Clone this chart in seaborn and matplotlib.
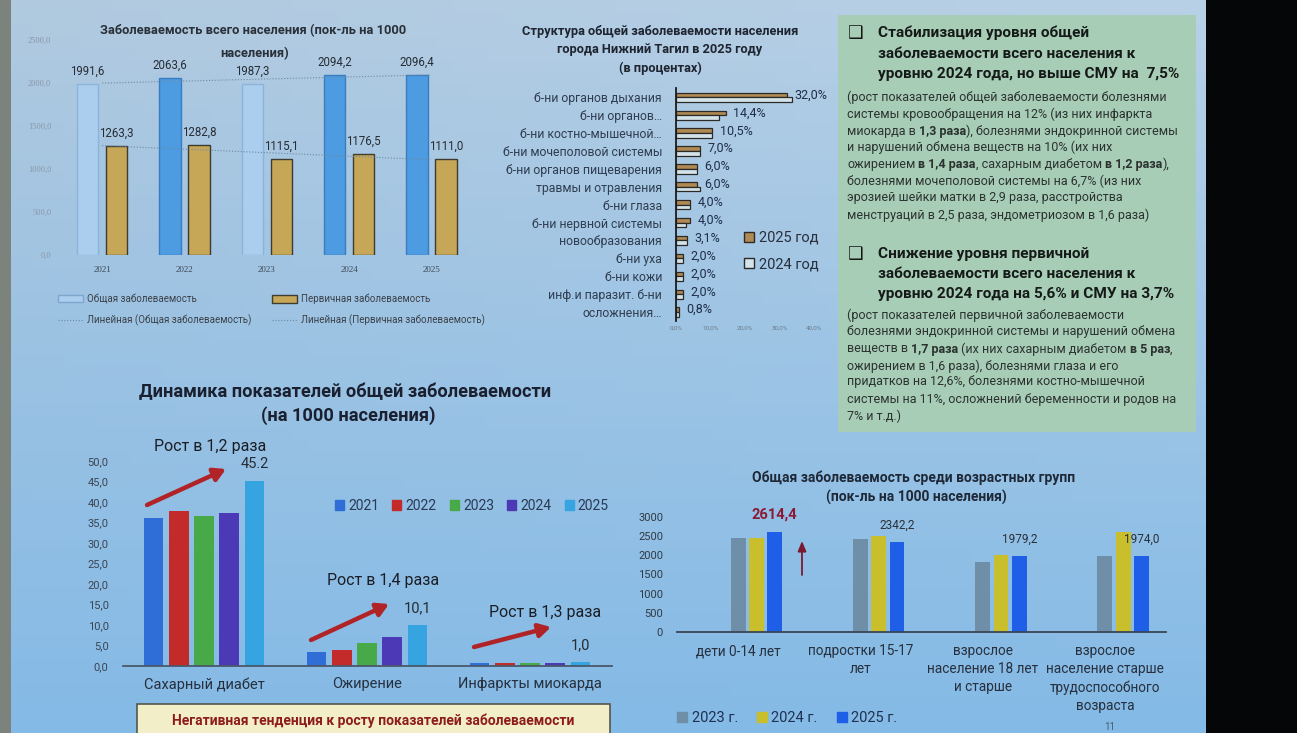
import numpy as np
import pandas as pd
import matplotlib
matplotlib.use('Agg')
import matplotlib.pyplot as plt
import matplotlib.font_manager as fm
from matplotlib.patches import Rectangle, Patch
from matplotlib.lines import Line2D
import seaborn as sns

# ---------------- data ----------------
tl_years = ['2021', '2022', '2023', '2024', '2025']
tl_general = [1991.6, 2063.6, 1987.3, 2094.2, 2096.4]
tl_primary = [1263.3, 1282.8, 1115.1, 1176.5, 1111.0]
tl_series = ['Общая заболеваемость', 'Первичная заболеваемость']
tl_trend_labels = ['Линейная (Общая заболеваемость)', 'Линейная (Первичная заболеваемость)']
tl_yticks = [0, 500, 1000, 1500, 2000, 2500]

st_cats = ['б-ни органов дыхания', 'б-ни органов…', 'б-ни костно-мышечной…',
           'б-ни мочеполовой системы', 'б-ни органов пищеварения', 'травмы и отравления',
           'б-ни глаза', 'б-ни нервной системы', 'новообразования', 'б-ни уха',
           'б-ни кожи', 'инф.и паразит. б-ни', 'осложнения…']
st_2025 = [32.0, 14.4, 10.5, 7.0, 6.0, 6.0, 4.0, 4.0, 3.1, 2.0, 2.0, 2.0, 0.8]
st_2024 = [33.6, 12.5, 10.5, 7.0, 6.0, 6.9, 4.0, 3.0, 3.1, 2.0, 2.0, 2.0, 0.8]
st_years = ['2025 год', '2024 год']
st_xticks = [0, 10, 20, 30, 40]

dy_cats = ['Сахарный диабет', 'Ожирение', 'Инфаркты миокарда']
dy_years = ['2021', '2022', '2023', '2024', '2025']
dy_2021 = [36.1, 3.4, 0.75]
dy_2022 = [37.7, 4.0, 0.80]
dy_2023 = [36.6, 5.5, 0.85]
dy_2024 = [37.2, 7.1, 0.77]
dy_2025 = [45.2, 10.1, 1.0]
dy_labels = ['45.2', '10,1', '1,0']
dy_growth = ['Рост в 1,2 раза', 'Рост в 1,4 раза', 'Рост в 1,3 раза']
dy_yticks = [0, 5, 10, 15, 20, 25, 30, 35, 40, 45, 50]

ag_cats = ['дети 0-14 лет', 'подростки 15-17\nлет', 'взрослое\nнаселение 18 лет\nи старше',
           'взрослое\nнаселение старше\nтрудоспособного\nвозраста']
ag_years = ['2023 г.', '2024 г.', '2025 г.']
ag_2023 = [2450, 2420, 1810, 1980]
ag_2024 = [2440, 2510, 1995, 2590]
ag_2025 = [2614.4, 2342.2, 1979.2, 1974.0]
ag_yticks = [0, 500, 1000, 1500, 2000, 2500, 3000]

box1_head = ['Стабилизация уровня общей', 'заболеваемости всего населения к',
             'уровню 2024 года, но выше СМУ на  7,5%']
box1_body = ['(рост показателей общей заболеваемости болезнями',
             'системы кровообращения на 12% (из них инфаркта',
             'миокарда в *1,3 раза*), болезнями эндокринной системы',
             'и нарушений обмена веществ на 10% (их них',
             'ожирением *в 1,4 раза*, сахарным диабетом *в 1,2 раза*),',
             'болезнями мочеполовой системы на 6,7% (из них',
             'эрозией шейки матки в 2,9 раза, расстройства',
             'менструаций в 2,5 раза, эндометриозом в 1,6 раза)']
box2_head = ['Снижение уровня первичной', 'заболеваемости всего населения к',
             'уровню 2024 года на 5,6% и СМУ на 3,7%']
box2_body = ['(рост показателей первичной заболеваемости',
             'болезнями эндокринной системы и нарушений обмена',
             'веществ в *1,7 раза* (их них сахарным диабетом *в 5 раз*,',
             'ожирением в 1,6 раза), болезнями глаза и его',
             'придатков на 12,6%, болезнями костно-мышечной',
             'системы на 11%, осложнений беременности и родов на',
             '7% и т.д.)']

# ---------------- setup ----------------
sns.set_style('white')
names = {f.name for f in fm.fontManager.ttflist}
MAIN = 'Roboto' if 'Roboto' in names else 'DejaVu Sans'
plt.rcParams['font.family'] = [MAIN, 'DejaVu Sans']

W, H = 1297, 733
fig = plt.figure(figsize=(W / 100, H / 100), dpi=100)
r = fig.canvas.get_renderer()


def px_rect(x0, y0, x1, y1):
    return [x0 / W, 1 - y1 / H, (x1 - x0) / W, (y1 - y0) / H]


def T(x, y, s, **kw):
    kw.setdefault('va', 'center')
    return fig.text(x / W, 1 - y / H, s, **kw)


def fit(t, width):
    w = t.get_window_extent(renderer=r).width
    if w > 0:
        t.set_fontsize(t.get_fontsize() * width / w)
    return t.get_fontsize()


def seg_width(s, size, weight):
    t = fig.text(0, 0, '|' + s + '|', fontsize=size, fontweight=weight)
    w1 = t.get_window_extent(renderer=r).width
    t.set_text('||')
    w0 = t.get_window_extent(renderer=r).width
    t.remove()
    return w1 - w0


def rich_line(x, y, line, size, color):
    parts = line.split('*')
    for i, p in enumerate(parts):
        if not p:
            continue
        wt = 'bold' if i % 2 else 'normal'
        lead = len(p) - len(p.lstrip(' '))
        xd = x + (seg_width(' ' * lead, size, wt) if lead else 0)
        T(xd, y, p.strip(' '), fontsize=size, fontweight=wt, color=color, ha='left')
        x += seg_width(p, size, wt)


def clean(ax):
    ax.set_facecolor('none')
    ax.set_xlabel('')
    ax.set_ylabel('')
    for s in ax.spines.values():
        s.set_visible(False)


# ---------------- background ----------------
bg = fig.add_axes([0, 0, 1, 1], zorder=-10)
yy, xx = np.mgrid[0:1:60j, 0:1:80j]
top = np.array([184, 209, 231]) / 255
bot = np.array([132, 186, 230]) / 255
img = top * (1 - yy[..., None]) + bot * yy[..., None]
img = img - 0.03 * (1 - xx[..., None]) * (1 - yy[..., None])
bg.imshow(np.clip(img, 0, 1), extent=[0, 1, 0, 1], aspect='auto', origin='upper')
bg.set_xlim(0, 1)
bg.set_ylim(0, 1)
bg.set_axis_off()
bg.add_patch(Rectangle((0, 0), 11 / W, 1, transform=bg.transAxes, fc='#7c837c', ec='none'))
bg.add_patch(Rectangle((1206 / W, 0), (W - 1206) / W, 1, transform=bg.transAxes, fc='#050608', ec='none'))
bg.add_patch(Rectangle((838 / W, 1 - 432 / H), 358 / W, 417 / H, transform=bg.transAxes,
                       fc='#a8cdb6', ec='none'))
bg.add_patch(Rectangle((137 / W, 1 - 745 / H), 473 / W, 41 / H, transform=bg.transAxes,
                       fc='#f2eec8', ec='#55564e', lw=1.2))

# ---------------- top-left chart ----------------
ax1 = fig.add_axes(px_rect(61, 40, 472.5, 255))
df1 = pd.DataFrame({'year': tl_years * 2,
                    'series': [tl_series[0]] * len(tl_years) + [tl_series[1]] * len(tl_years),
                    'value': tl_general + tl_primary})
sns.barplot(data=df1, x='year', y='value', hue='series', order=tl_years, hue_order=tl_series,
            palette=['#4d9ce2', '#c6a657'], saturation=1, width=0.705, gap=0.26, ax=ax1,
            legend=False, linewidth=1.0, edgecolor='#3e3b30')
gen_face = ['#abcdee', '#4d9ce2', '#abcdee', '#4d9ce2', '#4d9ce2']
gen_edge = ['#8cb4da', '#3a7cc0', '#8cb4da', '#3a7cc0', '#3a7cc0']
for p, fc, ec in zip(ax1.containers[0], gen_face, gen_edge):
    p.set_facecolor(fc)
    p.set_edgecolor(ec)
trend_kw = dict(color='#6d8aa2', lw=0.8, ls=(0, (1, 1.6)))
sns.regplot(x=np.arange(len(tl_years)), y=np.array(tl_general), scatter=False, ci=None,
            ax=ax1, line_kws=trend_kw)
sns.regplot(x=np.arange(len(tl_years)), y=np.array(tl_primary), scatter=False, ci=None,
            ax=ax1, line_kws=trend_kw)
fmt = lambda v: f'{v:.1f}'.replace('.', ',')
ax1.bar_label(ax1.containers[0], labels=[fmt(v) for v in tl_general], padding=4.5,
              fontsize=8.3, color='#262c34')
ax1.bar_label(ax1.containers[1], labels=[fmt(v) for v in tl_primary], padding=4.5,
              fontsize=8.3, color='#262c34')
ax1.set_xlim(-0.5, len(tl_years) - 0.5)
ax1.set_ylim(0, 2500)
ax1.set_yticks(tl_yticks)
ax1.set_yticklabels([fmt(v) for v in tl_yticks], fontsize=6, color='#8797a6',
                    family='Liberation Serif')
ax1.set_xticks(range(len(tl_years)))
ax1.set_xticklabels(tl_years, fontsize=6.5, color='#3d4854', family='Liberation Serif')
ax1.tick_params(length=0, axis='y', pad=7)
ax1.tick_params(length=0, axis='x', pad=8)
clean(ax1)

t = T(253, 31, 'Заболеваемость всего населения (пок-ль на 1000', fontsize=9, fontweight='bold',
      color='#2a3038', ha='center')
fs = fit(t, 305)
T(255, 54, 'населения)', fontsize=fs, fontweight='bold', color='#2a3038', ha='center')

leg_kw = dict(loc='upper left', frameon=False, fontsize=7, handlelength=2.6, handleheight=0.8,
              handletextpad=0.4, labelspacing=1.05, borderpad=0, borderaxespad=0,
              labelcolor='#3a4048')
h_gen = Patch(fc='#abcdee', ec='#7fa6cc', lw=1)
h_pri = Patch(fc='#c6a657', ec='#3e3b30', lw=1)
h_tr = Line2D([], [], **trend_kw)
fig.legend([h_gen, h_tr], [tl_series[0], tl_trend_labels[0]],
           bbox_to_anchor=(58 / W, 1 - 294 / H), **leg_kw)
fig.legend([h_pri, h_tr], [tl_series[1], tl_trend_labels[1]],
           bbox_to_anchor=(272 / W, 1 - 294 / H), **leg_kw)

# ---------------- top-middle chart ----------------
ax2 = fig.add_axes(px_rect(676, 88.4, 814.5, 321))
df2 = pd.DataFrame({'cat': st_cats * 2,
                    'year': [st_years[0]] * len(st_cats) + [st_years[1]] * len(st_cats),
                    'value': st_2025 + st_2024})
sns.barplot(data=df2, y='cat', x='value', hue='year', order=st_cats, hue_order=st_years,
            orient='h', palette=['#b08a55', '#d3e3ea'], saturation=1, width=0.52, gap=0,
            edgecolor='#2c2a26', linewidth=0.9, ax=ax2, legend=False)
ax2.bar_label(ax2.containers[0], labels=[fmt(v) + '%' for v in st_2025], padding=5.5,
              fontsize=9, color='#1f2d48')
ax2.set_xlim(0, 40)
ax2.set_xticks(st_xticks)
ax2.set_xticklabels([fmt(v) + '%' for v in st_xticks], fontsize=4.5, color='#6a7a88')
ax2.tick_params(axis='x', length=0, pad=3)
ax2.tick_params(axis='y', length=0, pad=10, labelsize=8.8, labelcolor='#2f3d50')
clean(ax2)
ax2.spines['left'].set_visible(True)
ax2.spines['left'].set_color('#1c1c1c')
ax2.spines['left'].set_linewidth(1.3)

t = T(660, 32, 'Структура общей заболеваемости населения', fontsize=9, fontweight='bold',
      color='#1e2430', ha='center')
fs = fit(t, 275)
T(660, 50, 'города Нижний Тагил в 2025 году', fontsize=fs, fontweight='bold', color='#1e2430',
  ha='center')
T(660, 68, '(в процентах)', fontsize=fs, fontweight='bold', color='#1e2430', ha='center')

fig.legend([Patch(fc='#b08a55', ec='#2c2a26', lw=1), Patch(fc='#d3e3ea', ec='#2c2a26', lw=1)],
           st_years, loc='upper left', bbox_to_anchor=(744 / W, 1 - 231 / H), frameon=False,
           fontsize=10.5, handlelength=0.7, handleheight=0.7, handletextpad=0.35,
           labelspacing=0.85, borderpad=0, borderaxespad=0, labelcolor='#27303c')

# ---------------- text box ----------------
tmp = T(0, -50, box1_head[2], fontsize=10, fontweight='bold')
HS = fit(tmp, 300)
tmp.remove()
tmp = T(0, -50, box1_body[0], fontsize=9)
BS = fit(tmp, 320)
tmp.remove()
for yc in (33, 254):
    T(856, yc, '❑', fontsize=12.5, family='DejaVu Sans', color='#151515', ha='center')
for line, yc in zip(box1_head, (33, 53.5, 74)):
    T(878, yc, line, fontsize=HS, fontweight='bold', color='#151a18', ha='left')
for line, yc in zip(box1_body, (97, 114, 131, 147.5, 164.5, 181, 198, 215)):
    rich_line(847, yc, line, BS, '#2b3230')
for line, yc in zip(box2_head, (254, 274, 294)):
    T(878, yc, line, fontsize=HS, fontweight='bold', color='#151a18', ha='left')
for line, yc in zip(box2_body, (315, 332, 349, 366, 382, 399, 416)):
    rich_line(847, yc, line, BS, '#2b3230')

# ---------------- bottom-left chart ----------------
ax3 = fig.add_axes(px_rect(122.5, 461, 611.5, 666))
dy_all = [dy_2021, dy_2022, dy_2023, dy_2024, dy_2025]
df3 = pd.DataFrame({'cat': dy_cats * len(dy_years),
                    'year': [y for y in dy_years for _ in dy_cats],
                    'value': [v for vals in dy_all for v in vals]})
dy_colors = ['#2e6ed6', '#c32b2a', '#47a948', '#4c39b6', '#35a4e0']
sns.barplot(data=df3, x='cat', y='value', hue='year', order=dy_cats, hue_order=dy_years,
            palette=dy_colors, saturation=1, width=0.775, gap=0.22, ax=ax3, legend=False,
            linewidth=0)
ax3.bar_label(ax3.containers[-1], labels=dy_labels, padding=7, fontsize=10.5, color='#262c34')
ax3.set_ylim(0, 50)
ax3.set_xlim(-0.5, len(dy_cats) - 0.5)
ax3.set_yticks(dy_yticks)
ax3.set_yticklabels([fmt(v) for v in dy_yticks], fontsize=8, color='#3a4552')
ax3.tick_params(axis='y', length=0, pad=10)
ax3.tick_params(axis='x', length=0, pad=8, labelsize=10.5, labelcolor='#26303e')
clean(ax3)
ax3.spines['bottom'].set_visible(True)
ax3.spines['bottom'].set_color('#4a5868')
ax3.spines['bottom'].set_linewidth(1.3)

t = T(345, 392, 'Динамика показателей общей заболеваемости', fontsize=12, fontweight='bold',
      color='#1a2030', ha='center')
fs = fit(t, 411)
T(348, 416, '(на 1000 населения)', fontsize=fs, fontweight='bold', color='#1a2030', ha='center')

fig.legend([Patch(color=c) for c in dy_colors], dy_years, ncol=5, loc='center left',
           bbox_to_anchor=(335 / W, 1 - 506 / H), frameon=False, fontsize=10,
           handlelength=0.65, handleheight=0.65, handletextpad=0.3, columnspacing=0.95,
           borderpad=0, borderaxespad=0, labelcolor='#2a3a55')

growth_pos = [(210, 446), (383, 580), (545, 613)]
arrows = [((147, 505), (226, 469)), ((311, 640), (389, 604)), ((474, 647), (551, 627))]
for txt, (gx, gy) in zip(dy_growth, growth_pos):
    T(gx, gy, txt, fontsize=11.5, color='#1a1e26', ha='center')
for (x0, y0), (x1, y1) in arrows:
    ax3.annotate('', xy=(x1 / W, 1 - y1 / H), xytext=(x0 / W, 1 - y0 / H),
                 xycoords='figure fraction', textcoords='figure fraction',
                 arrowprops=dict(arrowstyle='-|>,head_length=0.7,head_width=0.4',
                                 color='#b02428', lw=3.2, shrinkA=0, shrinkB=0))

T(373, 721, 'Негативная тенденция к росту показателей заболеваемости', fontsize=10,
  fontweight='bold', color='#8e1c1a', ha='center')

# ---------------- bottom-right chart ----------------
ax4 = fig.add_axes(px_rect(677, 516.7, 1166, 632))
ag_all = [ag_2023, ag_2024, ag_2025]
df4 = pd.DataFrame({'cat': ag_cats * len(ag_years),
                    'year': [y for y in ag_years for _ in ag_cats],
                    'value': [v for vals in ag_all for v in vals]})
ag_colors = ['#6f8ea8', '#c9bf2c', '#1f5ee6']
sns.barplot(data=df4, x='cat', y='value', hue='year', order=ag_cats, hue_order=ag_years,
            palette=ag_colors, saturation=1, width=0.45, gap=0.19, ax=ax4, legend=False,
            linewidth=0)
labs = ax4.bar_label(ax4.containers[-1], labels=[fmt(v) for v in ag_2025], padding=7.5,
                     fontsize=8.5, color='#2a3038')
labs[0].set_fontsize(10.5)
labs[0].set_fontweight('bold')
labs[0].set_color('#8a1a36')
ax4.set_ylim(0, 3000)
ax4.set_xlim(-0.65, len(ag_cats) - 0.65)
ax4.set_yticks(ag_yticks)
ax4.set_yticklabels([str(v) for v in ag_yticks], fontsize=8, color='#303a44')
ax4.set_xticks(np.arange(len(ag_cats)) - 0.15)
ax4.set_xticklabels(ag_cats, fontsize=9.8, color='#26303e', linespacing=1.35)
ax4.tick_params(axis='y', length=0, pad=10)
ax4.tick_params(axis='x', length=0, pad=9)
clean(ax4)
ax4.spines['bottom'].set_visible(True)
ax4.spines['bottom'].set_color('#3a4656')
ax4.spines['bottom'].set_linewidth(1.3)
ax4.annotate('', xy=(802 / W, 1 - 541 / H), xytext=(802 / W, 1 - 575 / H),
             xycoords='figure fraction', textcoords='figure fraction',
             arrowprops=dict(arrowstyle='-|>,head_length=0.6,head_width=0.25',
                             color='#7a1a30', lw=1.3, shrinkA=0, shrinkB=0))

t = T(914, 478, 'Общая заболеваемость среди возрастных групп', fontsize=9, fontweight='bold',
      color='#1e2836', ha='center')
fs = fit(t, 321)
T(916, 497, '(пок-ль на 1000 населения)', fontsize=fs, fontweight='bold', color='#1e2836',
  ha='center')

fig.legend([Patch(color=c) for c in ag_colors], ag_years, ncol=3, loc='center left',
           bbox_to_anchor=(677 / W, 1 - 718 / H), frameon=False, fontsize=10.5,
           handlelength=0.7, handleheight=0.7, handletextpad=0.3, columnspacing=1.3,
           borderpad=0, borderaxespad=0, labelcolor='#203050')
T(1110, 727, '11', fontsize=7, color='#4a5a6a', ha='center')

fig.savefig('out.png', dpi=100)
